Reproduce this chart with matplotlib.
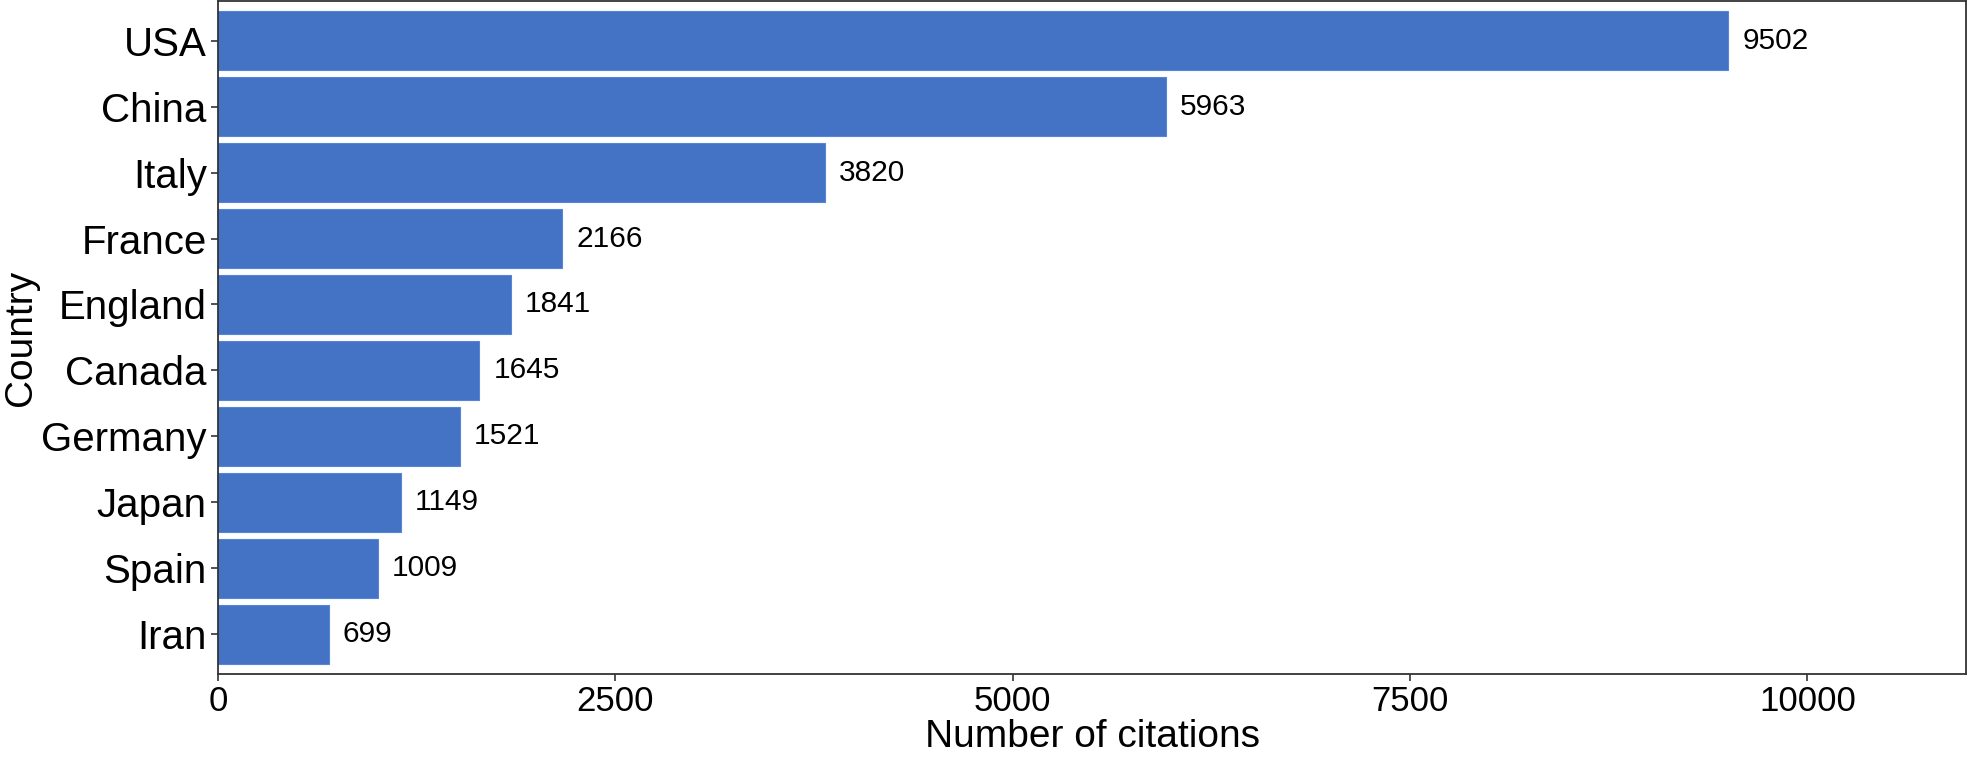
import matplotlib.pyplot as plt

plt.rcParams['font.family'] = ['Liberation Sans', 'DejaVu Sans']

# data, top to bottom
countries = ['USA', 'China', 'Italy', 'France', 'England',
             'Canada', 'Germany', 'Japan', 'Spain', 'Iran']
citations = [9502, 5963, 3820, 2166, 1841, 1645, 1521, 1149, 1009, 699]
xticks = [0, 2500, 5000, 7500, 10000]

fig = plt.figure(figsize=(19.69, 7.62), dpi=100)
ax = fig.add_axes([0.1107, 0.1155, 0.888, 0.8832])

pos = list(range(len(countries)))[::-1]
ax.barh(pos, citations, height=0.9, color='#4472C4',
        edgecolor='#5585D6', linewidth=0.8)

# value labels to the right of each bar
for p, v in zip(pos, citations):
    ax.annotate(str(v), xy=(v, p), xytext=(10, 0), textcoords='offset points',
                ha='left', va='center', fontsize=21.5, color='black')

ax.set_xlim(0, 11000)
ax.set_ylim(-0.6, len(countries) - 0.4)
ax.set_yticks(pos)
ax.set_yticklabels(countries, fontsize=29)
ax.set_xticks(xticks)
ax.set_xticklabels([str(t) for t in xticks], fontsize=25)
ax.tick_params(axis='both', length=5, width=1.2, color='#333333', pad=3)

ax.set_xlabel('Number of citations', fontsize=28, labelpad=1)
ax.set_ylabel('Country', fontsize=28, labelpad=2)

for s in ax.spines.values():
    s.set_color('#333333')
    s.set_linewidth(1.3)

fig.savefig('out.png', dpi=100)
